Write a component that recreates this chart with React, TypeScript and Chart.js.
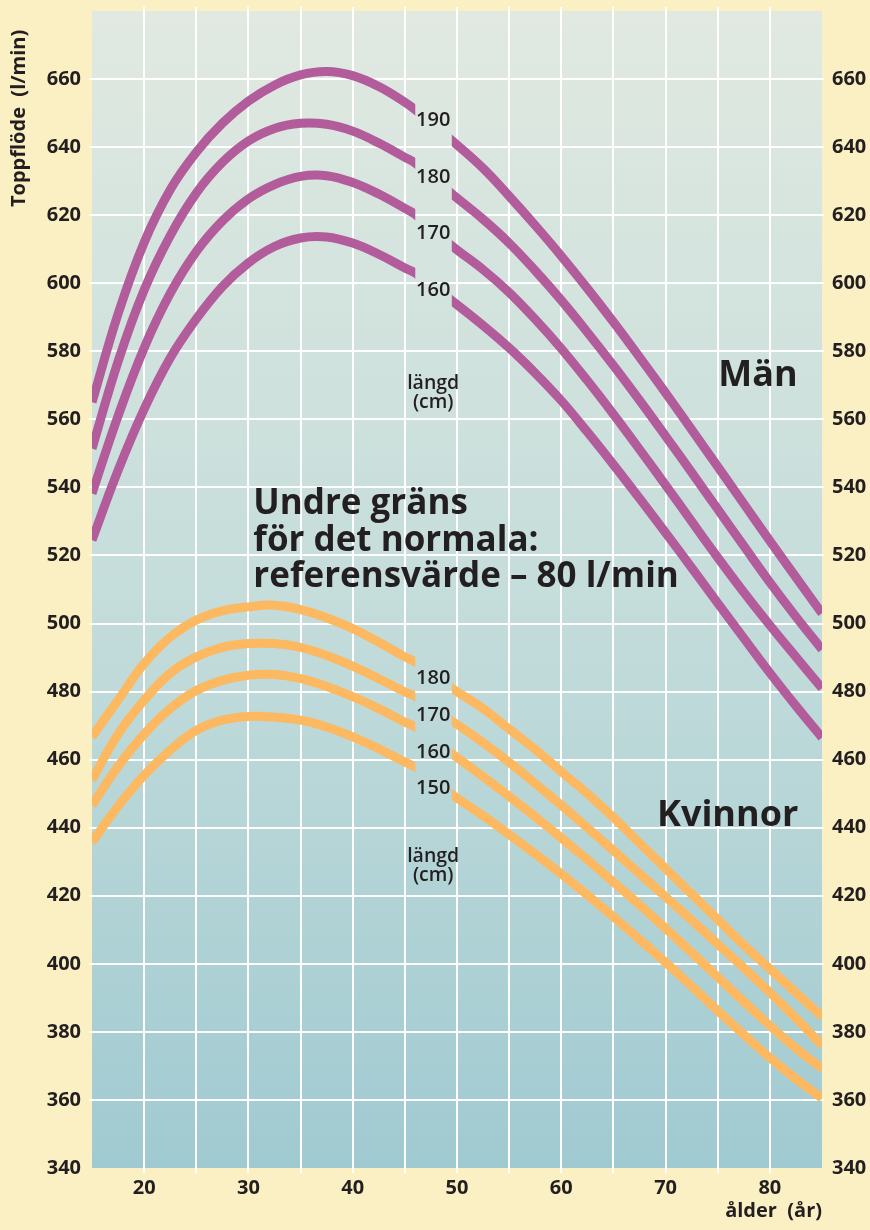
import React, { useEffect, useRef } from 'react';
import { Chart, registerables } from 'chart.js';

Chart.register(...registerables);

// ---- data ----
const AGES = [15, 17.5, 20, 22.5, 25, 27.5, 30, 32.5, 35, 37.5, 40, 42.5, 45, 46, 49.5, 52.5, 55, 57.5, 60, 62.5, 65, 67.5, 70, 72.5, 75, 77.5, 80, 82.5, 85];

const MAN_HEIGHTS = ['190', '180', '170', '160'];
const MAN_190 = [565, 591, 612, 627.5, 638.5, 647, 653.5, 658.2, 661.2, 662.2, 661, 657.8, 653.2, 651, 642, 633.8, 625.6, 617, 608, 598.5, 588.6, 578.3, 567.8, 557, 546.1, 535.2, 524.3, 513.6, 503];
const MAN_180 = [551.4, 577, 598, 614, 626.5, 635.5, 641.8, 645.5, 647, 646.7, 644.7, 641.2, 637, 635.3, 626.3, 618.8, 611.8, 603.7, 595, 585.6, 575.8, 565.6, 555.1, 544.4, 533.6, 522.8, 512.1, 502, 492.4];
const MAN_170 = [538.2, 561, 581, 597, 609.3, 618.3, 624.8, 629, 631.4, 631.6, 629.6, 626.2, 622, 620.2, 611, 604, 597.3, 589.4, 580.8, 571.4, 561.5, 551.2, 540.7, 530, 519.4, 509.2, 499.5, 490.2, 481];
const MAN_160 = [524.5, 545, 563, 578, 589.5, 599, 606, 610.8, 613.3, 613.6, 611.8, 608.5, 604.5, 603, 594.9, 587.6, 581, 573.6, 565.5, 556.3, 546.7, 536.8, 526.7, 516.4, 506, 495.7, 485.5, 475.8, 466.5];

const WOMAN_HEIGHTS = ['180', '170', '160', '150'];
const WOMAN_180 = [466.7, 477.5, 488.2, 496, 501, 503.7, 504.9, 505.4, 504.1, 501.7, 498.5, 494.5, 490.2, 488.7, 481, 475, 469, 463, 456.5, 450, 443, 435.5, 428, 420.5, 413, 405.5, 398.5, 391.5, 384.5];
const WOMAN_170 = [454, 467.5, 477.5, 485.4, 490.2, 493, 494.1, 494.1, 493, 490.6, 487.5, 483.8, 479.9, 478.6, 471.4, 465, 459.2, 453, 446.6, 440, 433.3, 426.5, 419.7, 412.8, 405.8, 398.8, 391.6, 384, 376];
const WOMAN_160 = [446.6, 458, 467.5, 475, 480.3, 483.3, 484.8, 485, 483.8, 481.5, 478.5, 475, 471, 469.6, 461.8, 455, 449.2, 443.2, 437, 430.6, 424, 417.3, 410.4, 403.3, 396.1, 388.9, 381.8, 375.2, 369.2];
const WOMAN_150 = [435.8, 446.3, 455.4, 462.8, 468.6, 471.6, 472.7, 472.5, 471.6, 469.6, 466.7, 463.2, 459.3, 457.8, 449.8, 443.5, 438, 432.3, 426.4, 420.2, 413.8, 407.2, 400.4, 393.4, 386.2, 379.2, 372.4, 366.2, 360.5];

const MAN_SERIES = [MAN_190, MAN_180, MAN_170, MAN_160];
const WOMAN_SERIES = [WOMAN_180, WOMAN_170, WOMAN_160, WOMAN_150];

const X_MIN = 15;
const X_MAX = 85;
const Y_MIN = 340;
const Y_MAX = 680;
const GAP_FROM = 46;
const GAP_TO = 49.5;

const Y_TITLE = 'Toppflöde  (l/min)';
const X_TITLE = 'ålder  (år)';
const REF_LINES = ['Undre gräns', 'för det normala:', 'referensvärde – 80 l/min'];

// ---- styles ----
const BG = '#FBF0C4';
const TEXT = '#231F20';
const PURPLE = '#B25C9B';
const ORANGE = '#FCB962';
const FONT = '"Open Sans", "Noto Sans", "DejaVu Sans", sans-serif';

type Note = { text: string; x: number; y: number; size: number; weight: string; align: CanvasTextAlign };

const NOTES: Note[] = [
  { text: MAN_HEIGHTS[0], x: 47.72, y: 646.3, size: 20, weight: '600', align: 'center' },
  { text: MAN_HEIGHTS[1], x: 47.72, y: 629.6, size: 20, weight: '600', align: 'center' },
  { text: MAN_HEIGHTS[2], x: 47.72, y: 612.9, size: 20, weight: '600', align: 'center' },
  { text: MAN_HEIGHTS[3], x: 47.72, y: 596.25, size: 20, weight: '600', align: 'center' },
  { text: 'längd', x: 47.72, y: 568.8, size: 19.5, weight: '600', align: 'center' },
  { text: '(cm)', x: 47.72, y: 563.2, size: 19.5, weight: '600', align: 'center' },
  { text: WOMAN_HEIGHTS[0], x: 47.72, y: 482.2, size: 20, weight: '600', align: 'center' },
  { text: WOMAN_HEIGHTS[1], x: 47.72, y: 471.4, size: 20, weight: '600', align: 'center' },
  { text: WOMAN_HEIGHTS[2], x: 47.72, y: 460.6, size: 20, weight: '600', align: 'center' },
  { text: WOMAN_HEIGHTS[3], x: 47.72, y: 449.8, size: 20, weight: '600', align: 'center' },
  { text: 'längd', x: 47.72, y: 429.9, size: 19.5, weight: '600', align: 'center' },
  { text: '(cm)', x: 47.72, y: 424.3, size: 19.5, weight: '600', align: 'center' },
  { text: 'Män', x: 82.66, y: 569.9, size: 36, weight: 'bold', align: 'right' },
  { text: 'Kvinnor', x: 82.73, y: 440.45, size: 36, weight: 'bold', align: 'right' },
  { text: REF_LINES[0], x: 30.47, y: 532.2, size: 35, weight: 'bold', align: 'left' },
  { text: REF_LINES[1], x: 30.47, y: 521.4, size: 35, weight: 'bold', align: 'left' },
  { text: REF_LINES[2], x: 30.47, y: 510.7, size: 35, weight: 'bold', align: 'left' },
];

const bgPlugin = {
  id: 'bgPlugin',
  beforeDraw(chart: any) {
    const { ctx, chartArea: a } = chart;
    ctx.save();
    ctx.fillStyle = BG;
    ctx.fillRect(0, 0, chart.width, chart.height);
    const g = ctx.createLinearGradient(0, a.top, 0, a.bottom);
    g.addColorStop(0, '#E1E9E1');
    g.addColorStop(0.5, '#C5DDDB');
    g.addColorStop(1, '#A0CAD1');
    ctx.fillStyle = g;
    ctx.fillRect(a.left, a.top, a.right - a.left, a.bottom - a.top);
    ctx.restore();
  },
  afterDraw(chart: any) {
    const { ctx, chartArea: a, scales } = chart;
    ctx.save();
    ctx.strokeStyle = '#FFFFFF';
    ctx.lineWidth = 2;
    for (let v = X_MIN + 5; v < X_MAX; v += 5) {
      const px = Math.round(scales.x.getPixelForValue(v));
      ctx.beginPath();
      ctx.moveTo(px, a.top - 4);
      ctx.lineTo(px, a.top);
      ctx.stroke();
    }
    ctx.restore();
  },
};

const gapPlugin = {
  id: 'gapPlugin',
  beforeDatasetsDraw(chart: any) {
    const { ctx, scales } = chart;
    const x1 = scales.x.getPixelForValue(GAP_FROM);
    const x2 = scales.x.getPixelForValue(GAP_TO);
    ctx.save();
    ctx.beginPath();
    ctx.rect(0, 0, x1, chart.height);
    ctx.rect(x2, 0, chart.width - x2, chart.height);
    ctx.clip();
  },
  afterDatasetsDraw(chart: any) {
    chart.ctx.restore();
  },
};

const textPlugin = {
  id: 'textPlugin',
  afterDraw(chart: any) {
    const { ctx, chartArea: a, scales } = chart;
    ctx.save();
    ctx.fillStyle = TEXT;
    ctx.textBaseline = 'alphabetic';
    for (const n of NOTES) {
      ctx.font = `${n.weight} ${n.size}px ${FONT}`;
      ctx.textAlign = n.align;
      ctx.fillText(n.text, scales.x.getPixelForValue(n.x), scales.y.getPixelForValue(n.y));
    }
    ctx.font = `bold 20px ${FONT}`;
    ctx.textAlign = 'right';
    ctx.fillText(X_TITLE, a.right, a.bottom + 48.7);
    ctx.translate(25, 207);
    ctx.rotate(-Math.PI / 2);
    ctx.textAlign = 'left';
    ctx.fillText(Y_TITLE, 0, 0);
    ctx.restore();
  },
};

const noPad = (s: any) => {
  s.paddingTop = 0;
  s.paddingBottom = 0;
  s.paddingLeft = 0;
  s.paddingRight = 0;
};

export default function App() {
  const ref = useRef<HTMLCanvasElement>(null);

  useEffect(() => {
    const canvas = ref.current;
    if (!canvas) return;
    const mk = (vals: number[]) => AGES.map((a, i) => ({ x: a, y: vals[i] }));
    const line = (label: string, vals: number[], color: string) => ({
      label,
      data: mk(vals),
      borderColor: color,
      backgroundColor: color,
      borderWidth: 9,
      borderCapStyle: 'butt' as const,
      borderJoinStyle: 'round' as const,
      pointRadius: 0,
      fill: false,
      tension: 0.4,
    });
    const datasets = [
      ...MAN_SERIES.map((v, i) => line('Män ' + MAN_HEIGHTS[i], v, PURPLE)),
      ...WOMAN_SERIES.map((v, i) => line('Kvinnor ' + WOMAN_HEIGHTS[i], v, ORANGE)),
    ];
    const tickFont = { family: FONT, size: 20, weight: 'bold' as const };
    const gridColor = (edge: number[]) => (c: any) =>
      c.tick && edge.includes(c.tick.value) ? 'rgba(0,0,0,0)' : '#FFFFFF';

    const chart = new Chart(canvas, {
      type: 'line',
      data: { datasets },
      options: {
        responsive: false,
        animation: false,
        devicePixelRatio: 1,
        layout: { padding: { top: 11, left: 0, right: 0, bottom: 0 } },
        plugins: { legend: { display: false }, tooltip: { enabled: false } },
        scales: {
          x: {
            type: 'linear',
            min: X_MIN,
            max: X_MAX,
            position: 'bottom',
            border: { display: false },
            grid: { color: gridColor([X_MIN, X_MAX]), lineWidth: 2, tickLength: 5, drawTicks: true },
            ticks: {
              stepSize: 5,
              autoSkip: false,
              maxRotation: 0,
              color: TEXT,
              font: tickFont,
              padding: 3,
              callback: (v: any) => (Number(v) % 10 === 0 ? String(v) : ''),
            },
            afterFit: (s: any) => { s.height = 62; noPad(s); },
          },
          y: {
            type: 'linear',
            min: Y_MIN,
            max: Y_MAX,
            position: 'left',
            border: { display: false },
            grid: { color: gridColor([Y_MIN, Y_MAX]), lineWidth: 2, tickLength: 3, drawTicks: true },
            ticks: {
              stepSize: 20,
              color: TEXT,
              font: tickFont,
              padding: 8,
              callback: (v: any) => (Number(v) === Y_MAX ? '' : String(v)),
            },
            afterFit: (s: any) => { s.width = 92; noPad(s); },
          },
          y2: {
            type: 'linear',
            min: Y_MIN,
            max: Y_MAX,
            position: 'right',
            border: { display: false },
            grid: { drawOnChartArea: false, color: gridColor([Y_MIN, Y_MAX]), lineWidth: 2, tickLength: 2 },
            ticks: {
              stepSize: 20,
              color: TEXT,
              font: tickFont,
              padding: 8,
              callback: (v: any) => (Number(v) === Y_MAX ? '' : String(v)),
            },
            afterFit: (s: any) => { s.width = 48; noPad(s); },
          },
        },
      },
      plugins: [bgPlugin, gapPlugin, textPlugin],
    });
    return () => chart.destroy();
  }, []);

  return (
    <div style={{ position: 'absolute', left: 0, top: 0, width: 870, height: 1230, background: BG }}>
      <canvas ref={ref} width={870} height={1230} style={{ display: 'block', width: 870, height: 1230 }} />
    </div>
  );
}
